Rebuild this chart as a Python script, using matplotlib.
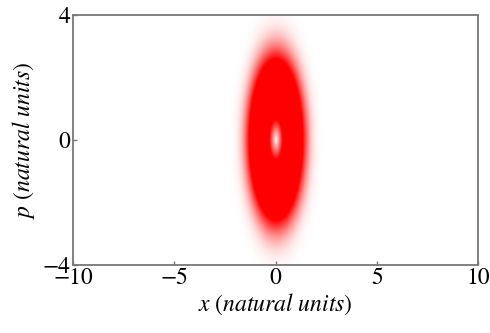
import numpy as np
import matplotlib
matplotlib.use('Agg')
import matplotlib.pyplot as plt
from matplotlib.colors import LinearSegmentedColormap

x_range = [-10, 10]
p_range = [-4, 4]
x_ticks = [-10, -5, 0, 5, 10]
p_ticks = [-4, 0, 4]
sigma_x = 1.18   # width of the distribution along x
sigma_p = 2.3    # width along p
clip = 0.55      # colour saturates at this fraction of the peak

plt.rcParams['font.family'] = 'STIXGeneral'
plt.rcParams['mathtext.fontset'] = 'stix'

xs = np.linspace(x_range[0], x_range[1], 801)
ps = np.linspace(p_range[0], p_range[1], 401)
X, P = np.meshgrid(xs, ps)
r = np.sqrt((X / sigma_x)**2 + (P / sigma_p)**2)
W = r * np.exp(-r**3)
W = W / W.max()

cmap = LinearSegmentedColormap.from_list('wr', ['#ffffff', '#ff0000'])

fig = plt.figure(figsize=(4.9, 3.33), dpi=100)
ax = fig.add_axes([0.149, 0.204, 0.827, 0.751])
ax.imshow(W, extent=x_range + p_range, origin='lower', aspect='auto',
          cmap=cmap, vmin=0, vmax=clip, interpolation='bilinear')
ax.set_xlim(x_range)
ax.set_ylim(p_range)
ax.set_xticks(x_ticks)
ax.set_yticks(p_ticks)
for s in ax.spines.values():
	s.set_color('#777777')
	s.set_linewidth(1.3)
ax.tick_params(direction='in', length=3, width=1, color='#777777',
               labelsize=17, pad=2, top=False, right=False)
ax.set_xlabel(r'$x\ (\mathit{natural\ units})$', fontsize=17, labelpad=2)
ax.set_ylabel(r'$p\ (\mathit{natural\ units})$', fontsize=17, labelpad=4)
fig.savefig('out.png', dpi=100)
